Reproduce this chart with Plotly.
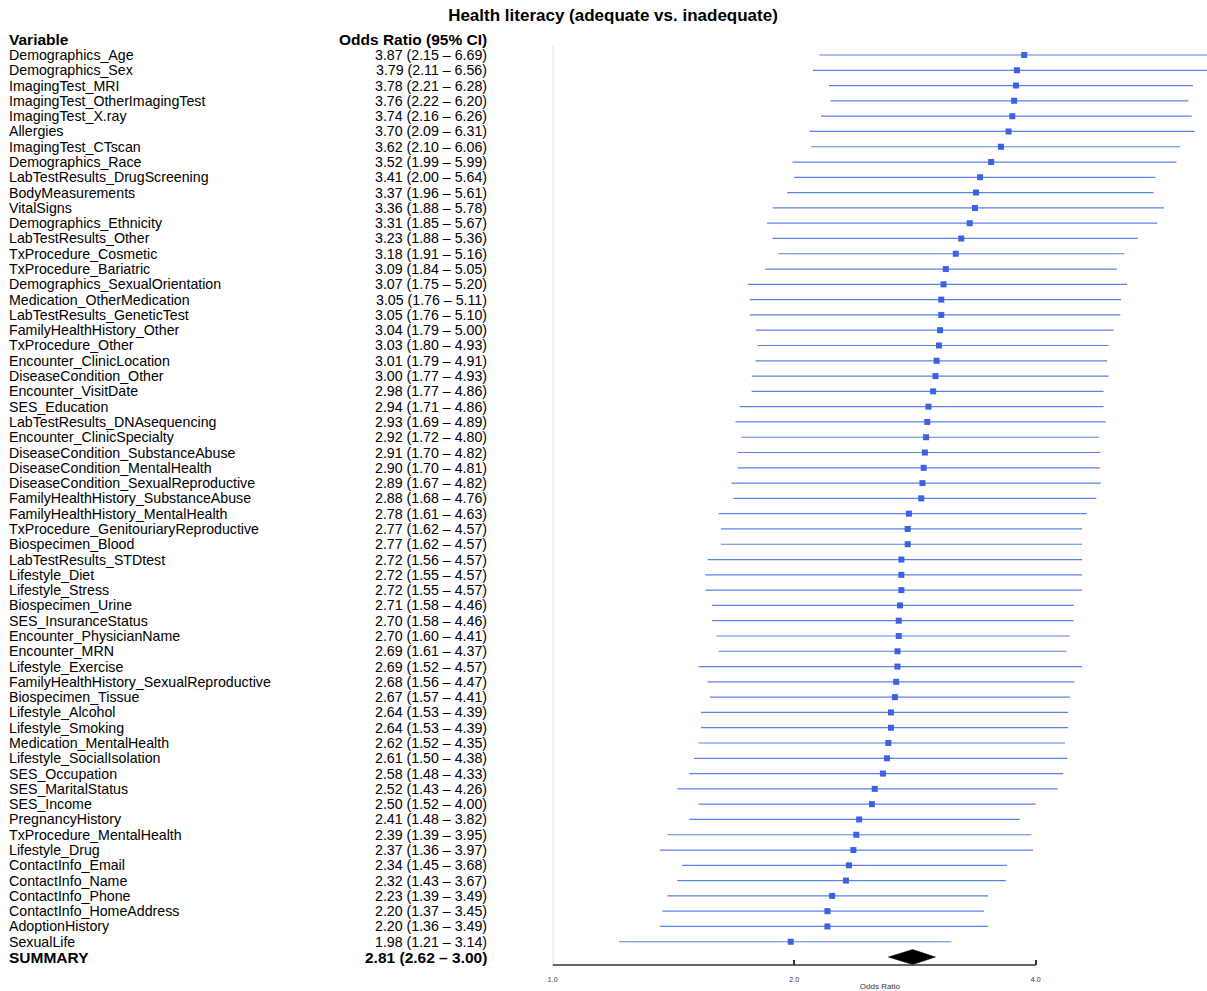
import math
import plotly.graph_objects as go

variables = [
    "Demographics_Age", "Demographics_Sex", "ImagingTest_MRI", "ImagingTest_OtherImagingTest",
    "ImagingTest_X.ray", "Allergies", "ImagingTest_CTscan", "Demographics_Race",
    "LabTestResults_DrugScreening", "BodyMeasurements", "VitalSigns", "Demographics_Ethnicity",
    "LabTestResults_Other", "TxProcedure_Cosmetic", "TxProcedure_Bariatric",
    "Demographics_SexualOrientation", "Medication_OtherMedication", "LabTestResults_GeneticTest",
    "FamilyHealthHistory_Other", "TxProcedure_Other", "Encounter_ClinicLocation",
    "DiseaseCondition_Other", "Encounter_VisitDate", "SES_Education", "LabTestResults_DNAsequencing",
    "Encounter_ClinicSpecialty", "DiseaseCondition_SubstanceAbuse", "DiseaseCondition_MentalHealth",
    "DiseaseCondition_SexualReproductive", "FamilyHealthHistory_SubstanceAbuse",
    "FamilyHealthHistory_MentalHealth", "TxProcedure_GenitouriaryReproductive", "Biospecimen_Blood",
    "LabTestResults_STDtest", "Lifestyle_Diet", "Lifestyle_Stress", "Biospecimen_Urine",
    "SES_InsuranceStatus", "Encounter_PhysicianName", "Encounter_MRN", "Lifestyle_Exercise",
    "FamilyHealthHistory_SexualReproductive", "Biospecimen_Tissue", "Lifestyle_Alcohol",
    "Lifestyle_Smoking", "Medication_MentalHealth", "Lifestyle_SocialIsolation", "SES_Occupation",
    "SES_MaritalStatus", "SES_Income", "PregnancyHistory", "TxProcedure_MentalHealth",
    "Lifestyle_Drug", "ContactInfo_Email", "ContactInfo_Name", "ContactInfo_Phone",
    "ContactInfo_HomeAddress", "AdoptionHistory", "SexualLife",
]
odds_ratio = [
    3.87, 3.79, 3.78, 3.76, 3.74, 3.70, 3.62, 3.52, 3.41, 3.37, 3.36, 3.31, 3.23, 3.18, 3.09,
    3.07, 3.05, 3.05, 3.04, 3.03, 3.01, 3.00, 2.98, 2.94, 2.93, 2.92, 2.91, 2.90, 2.89, 2.88,
    2.78, 2.77, 2.77, 2.72, 2.72, 2.72, 2.71, 2.70, 2.70, 2.69, 2.69, 2.68, 2.67, 2.64, 2.64,
    2.62, 2.61, 2.58, 2.52, 2.50, 2.41, 2.39, 2.37, 2.34, 2.32, 2.23, 2.20, 2.20, 1.98,
]
ci_lower = [
    2.15, 2.11, 2.21, 2.22, 2.16, 2.09, 2.10, 1.99, 2.00, 1.96, 1.88, 1.85, 1.88, 1.91, 1.84,
    1.75, 1.76, 1.76, 1.79, 1.80, 1.79, 1.77, 1.77, 1.71, 1.69, 1.72, 1.70, 1.70, 1.67, 1.68,
    1.61, 1.62, 1.62, 1.56, 1.55, 1.55, 1.58, 1.58, 1.60, 1.61, 1.52, 1.56, 1.57, 1.53, 1.53,
    1.52, 1.50, 1.48, 1.43, 1.52, 1.48, 1.39, 1.36, 1.45, 1.43, 1.39, 1.37, 1.36, 1.21,
]
ci_upper = [
    6.69, 6.56, 6.28, 6.20, 6.26, 6.31, 6.06, 5.99, 5.64, 5.61, 5.78, 5.67, 5.36, 5.16, 5.05,
    5.20, 5.11, 5.10, 5.00, 4.93, 4.91, 4.93, 4.86, 4.86, 4.89, 4.80, 4.82, 4.81, 4.82, 4.76,
    4.63, 4.57, 4.57, 4.57, 4.57, 4.57, 4.46, 4.46, 4.41, 4.37, 4.57, 4.47, 4.41, 4.39, 4.39,
    4.35, 4.38, 4.33, 4.26, 4.00, 3.82, 3.95, 3.97, 3.68, 3.67, 3.49, 3.45, 3.49, 3.14,
]
summary_label = "SUMMARY"
summary_or = 2.81
summary_lower = 2.62
summary_upper = 3.00

tick_values = [1.0, 2.0, 4.0]
tick_labels = ["1.0", "2.0", "4.0"]
title_text = "Health literacy (adequate vs. inadequate)"
col_headers = ["Variable", "Odds Ratio (95% CI)"]
x_axis_title = "Odds Ratio"

FONT = "Liberation Sans, Arial, Helvetica, sans-serif"
W, H = 1207, 991
split_px = 550
n = len(variables)
rows = list(range(1, n + 1))
summary_row = n + 1
y_top, y_bot = -0.57, 60.52

fig = go.Figure()

# ---- text columns (annotations anchored on the data axes) ----
fmt = [f"{o:.2f} ({l:.2f} \u2013 {u:.2f})" for o, l, u in zip(odds_ratio, ci_lower, ci_upper)]
left_texts = [f"<b>{col_headers[0]}</b>"] + variables + [f"<b>{summary_label}</b>"]
right_texts = [f"<b>{col_headers[1]}</b>"] + fmt + \
    [f"<b>{summary_or:.2f} ({summary_lower:.2f} \u2013 {summary_upper:.2f})</b>"]
ys = [0] + rows + [summary_row]
for i, (lt, rt, yy) in enumerate(zip(left_texts, right_texts, ys)):
    bold = (i == 0 or i == len(ys) - 1)
    sz = 15.5 if bold else 14.2
    fig.add_annotation(x=3, y=yy, xref="x", yref="y", text=lt, showarrow=False,
                       xanchor="left", yanchor="middle", borderpad=0,
                       font=dict(family=FONT, size=sz, color="black"))
    fig.add_annotation(x=485, y=yy, xref="x", yref="y", text=rt, showarrow=False,
                       xanchor="right", yanchor="middle", borderpad=0,
                       font=dict(family=FONT, size=sz, color="black"))

# ---- reference line at OR = 1 ----
fig.add_trace(go.Scatter(
    x=[1, 1], y=[0.41, y_bot], mode="lines", line=dict(color="#d9d9d9", width=1.5),
    xaxis="x2", yaxis="y", hoverinfo="skip", showlegend=False))

# ---- CI lines ----
cx, cy = [], []
for r, lo, hi in zip(rows, ci_lower, ci_upper):
    cx += [lo, hi, None]
    cy += [r, r, None]
fig.add_trace(go.Scatter(
    x=cx, y=cy, mode="lines", line=dict(color="#5a82ea", width=1.2),
    xaxis="x2", yaxis="y", hoverinfo="skip", showlegend=False))

# ---- point estimates ----
fig.add_trace(go.Scatter(
    x=odds_ratio, y=rows, mode="markers",
    marker=dict(symbol="square", size=6, color="#3a62e4"),
    xaxis="x2", yaxis="y", showlegend=False))

# ---- summary diamond ----
hh = 0.49
fig.add_trace(go.Scatter(
    x=[summary_lower, summary_or, summary_upper, summary_or, summary_lower],
    y=[summary_row, summary_row - hh, summary_row, summary_row + hh, summary_row],
    mode="lines", fill="toself", fillcolor="black", line=dict(color="black", width=0.5),
    xaxis="x2", yaxis="y", hoverinfo="skip", showlegend=False))

dom = split_px / W
px_per_dec = (1035 - 550) / math.log10(4)
x2_max = (W - split_px) / px_per_dec

# axis line spanning only the tick range (paper coords derived from the log scale)
def x2_to_paper(v):
    return dom + (math.log10(v) / x2_max) * (1 - dom)

fig.add_shape(type="line", xref="paper", yref="paper",
              x0=x2_to_paper(tick_values[0]), x1=x2_to_paper(tick_values[-1]), y0=0, y1=0,
              line=dict(color="#333333", width=1.5))

fig.update_layout(
    width=W, height=H,
    margin=dict(l=0, r=0, t=31, b=H - 965),
    paper_bgcolor="white", plot_bgcolor="white",
    title=dict(text=f"<b>{title_text}</b>", x=613 / W, xanchor="center",
               y=1 - 15 / H, yanchor="middle",
               font=dict(family=FONT, size=17, color="black")),
    xaxis=dict(domain=[0, dom], range=[0, split_px], visible=False, fixedrange=True),
    xaxis2=dict(domain=[dom, 1], type="log", range=[0, x2_max], anchor="y",
                tickvals=tick_values, ticktext=tick_labels, ticks="inside", ticklen=5,
                tickwidth=1.5, tickcolor="#333333", showgrid=False, zeroline=False,
                showline=False, ticklabelstandoff=9,
                tickfont=dict(family=FONT, size=7, color="#333333"),
                title=dict(text=x_axis_title, standoff=2,
                           font=dict(family=FONT, size=8, color="#333333"))),
    yaxis=dict(range=[y_bot, y_top], visible=False, fixedrange=True),
    showlegend=False,
)

fig.write_html(
    "out.html",
    config={"displayModeBar": False},
    post_script="document.body.style.margin='0';document.body.style.overflow='hidden';",
)
